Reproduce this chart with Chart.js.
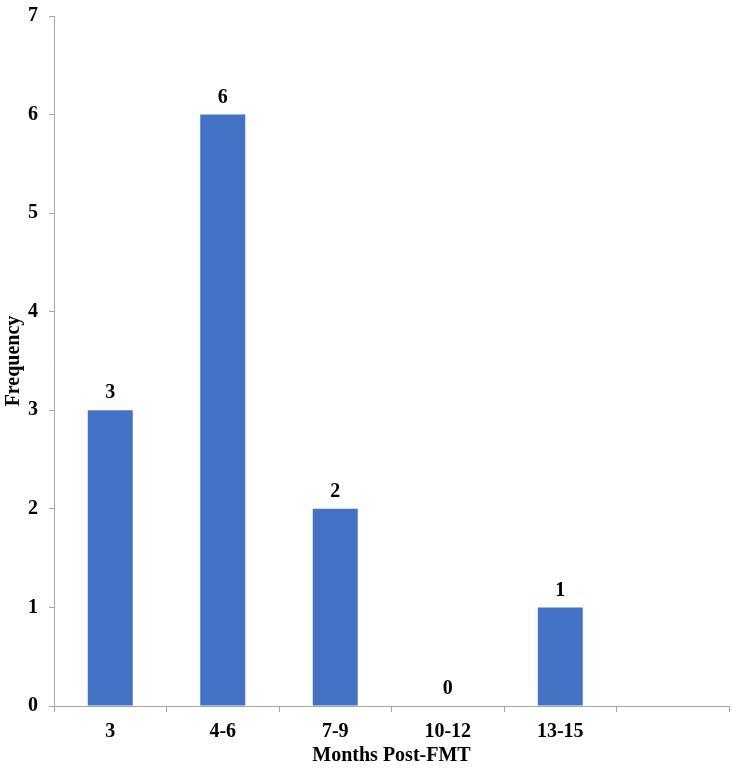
<!DOCTYPE html>
<html>
<head>
<meta charset="utf-8">
<script src="https://cdn.jsdelivr.net/npm/chart.js@4/dist/chart.umd.min.js"></script>
<style>
html,body{margin:0;padding:0;background:#fff;}
#wrap{width:737px;height:768px;}
</style>
</head>
<body>
<div id="wrap"><canvas id="c" width="737" height="768"></canvas></div>
<script>
const categories = ['3', '4-6', '7-9', '10-12', '13-15', ''];
const frequency = [3, 6, 2, 0, 1, null];
const yTicks = [0, 1, 2, 3, 4, 5, 6, 7];

const FONT = "'Liberation Serif', 'Times New Roman', serif";
const AXIS = '#a6a6a6';

const valueLabels = {
  id: 'valueLabels',
  afterDatasetsDraw(chart) {
    const ctx = chart.ctx;
    const meta = chart.getDatasetMeta(0);
    ctx.save();
    ctx.font = 'bold 20px ' + FONT;
    ctx.fillStyle = '#000';
    ctx.textAlign = 'center';
    ctx.textBaseline = 'bottom';
    meta.data.forEach((el, i) => {
      const v = chart.data.datasets[0].data[i];
      if (v === null || v === undefined) return;
      ctx.fillText(String(v), el.x, el.y - 7);
    });
    ctx.restore();
  }
};

new Chart(document.getElementById('c'), {
  type: 'bar',
  data: {
    labels: categories,
    datasets: [{
      data: frequency,
      backgroundColor: '#4472c4',
      borderWidth: 0,
      categoryPercentage: 0.4,
      barPercentage: 1.0
    }]
  },
  options: {
    responsive: false,
    animation: false,
    layout: { padding: { top: 16, right: 8, left: 0, bottom: 0 } },
    plugins: { legend: { display: false }, tooltip: { enabled: false } },
    scales: {
      x: {
        offset: true,
        afterFit(scale) { scale.height = 62; scale.paddingLeft = 0; scale.paddingRight = 0; },
        grid: { display: true, drawOnChartArea: false, drawTicks: true, tickLength: 6, color: AXIS, offset: true },
        border: { display: true, color: AXIS, width: 1 },
        ticks: { color: '#000', font: { family: FONT, size: 20, weight: 'bold' }, padding: 8, maxRotation: 0 },
        title: { display: true, text: 'Months Post-FMT', color: '#000', font: { family: FONT, size: 20, weight: 'bold' }, padding: { top: 2, bottom: 0 } }
      },
      y: {
        min: 0, max: 7,
        afterBuildTicks(scale) { scale.ticks = yTicks.map(v => ({ value: v })); },
        afterFit(scale) { scale.width = 54; scale.paddingTop = 0; scale.paddingBottom = 0; },
        grid: { display: true, drawOnChartArea: false, drawTicks: true, tickLength: 5, color: AXIS },
        border: { display: true, color: AXIS, width: 1 },
        ticks: { color: '#000', font: { family: FONT, size: 20, weight: 'bold' }, padding: 11 },
        title: { display: true, text: 'Frequency', color: '#000', font: { family: FONT, size: 20, weight: 'bold' }, padding: { top: 2, bottom: 2 } }
      }
    }
  },
  plugins: [valueLabels]
});
</script>
</body>
</html>
